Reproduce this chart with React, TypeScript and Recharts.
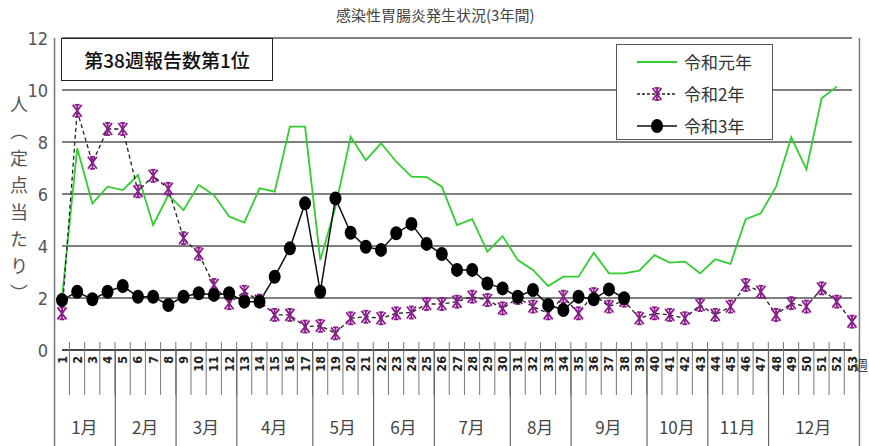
import React from 'react';
import { CartesianGrid, LineChart, Line, XAxis, YAxis } from 'recharts';

const WEEKS = Array.from({ length: 53 }, (_, i) => String(i + 1));

// 令和元年
const R1 = [
  2.0, 7.76, 5.64, 6.28, 6.15, 6.73, 4.8, 5.96, 5.38, 6.35, 5.96, 5.13, 4.9, 6.22, 6.09, 8.59, 8.59, 3.46,
  5.5, 8.2, 7.3, 7.95, 7.24, 6.67, 6.65, 6.28, 4.8, 5.03, 3.78, 4.38, 3.46, 3.08, 2.46, 2.82, 2.82, 3.74,
  2.95, 2.95, 3.05, 3.65, 3.36, 3.4, 2.95, 3.49, 3.31, 5.03, 5.26, 6.28, 8.18, 6.95, 9.68, 10.13, null,
];
// 令和2年
const R2 = [
  1.41, 9.2, 7.2, 8.5, 8.5, 6.1, 6.7, 6.2, 4.3, 3.7, 2.5, 1.8, 2.24, 1.9, 1.35, 1.35, 0.9, 0.93, 0.64, 1.22,
  1.28, 1.22, 1.41, 1.44, 1.77, 1.77, 1.86, 2.05, 1.92, 1.6, 2.0, 1.67, 1.41, 2.05, 1.41, 2.15, 1.67, 1.9,
  1.22, 1.41, 1.35, 1.22, 1.73, 1.35, 1.67, 2.5, 2.24, 1.35, 1.8, 1.67, 2.37, 1.86, 1.09,
];
// 令和3年 (week 38 まで)
const R3 = [
  1.92, 2.24, 1.95, 2.24, 2.46, 2.05, 2.05, 1.73, 2.05, 2.18, 2.12, 2.18, 1.86, 1.86, 2.82, 3.91, 5.64, 2.24,
  5.83, 4.51, 3.97, 3.85, 4.49, 4.85, 4.08, 3.69, 3.08, 3.08, 2.56, 2.37, 2.05, 2.31, 1.73, 1.54, 2.05, 1.95,
  2.33, 1.99,
];

const Y_TICKS = [0, 2, 4, 6, 8, 10, 12];

const MONTHS = [
  { label: '1月', start: 1, end: 4 },
  { label: '2月', start: 5, end: 8 },
  { label: '3月', start: 9, end: 12 },
  { label: '4月', start: 13, end: 17 },
  { label: '5月', start: 18, end: 21 },
  { label: '6月', start: 22, end: 25 },
  { label: '7月', start: 26, end: 30 },
  { label: '8月', start: 31, end: 34 },
  { label: '9月', start: 35, end: 39 },
  { label: '10月', start: 40, end: 43 },
  { label: '11月', start: 44, end: 47 },
  { label: '12月', start: 48, end: 53 },
];

const W = 869;
const H = 446;
const MARGIN = { top: 38, right: 17, left: 10, bottom: 0 };
const Y_WIDTH = 52;
const X_HEIGHT = 96;
const PLOT_W = W - MARGIN.left - Y_WIDTH - MARGIN.right;
const BAND = PLOT_W / WEEKS.length;

const JP = '"Noto Sans CJK JP", "Noto Sans", sans-serif';
const NUM = '"Liberation Sans Narrow", "DejaVu Sans Condensed", "Liberation Sans", sans-serif';

const data = WEEKS.map((w, i) => ({ week: w, r1: R1[i], r2: R2[i], r3: R3[i] ?? null }));

function WeekTick(props: any) {
  const { x, y, payload, index } = props;
  const week = Number(payload.value);
  const month = MONTHS.find((m) => m.start === week);
  return (
    <g>
      <line x1={x + BAND / 2} x2={x + BAND / 2} y1={y - 8} y2={y + 45} stroke="#777" strokeWidth={1} />
      {index === 0 && (
        <line x1={x - BAND / 2} x2={x - BAND / 2} y1={MARGIN.top} y2={H} stroke="#777" strokeWidth={1.5} />
      )}
      {index === WEEKS.length - 1 && (
        <line x1={x + BAND / 2} x2={x + BAND / 2} y1={MARGIN.top} y2={H} stroke="#777" strokeWidth={1.5} />
      )}
      <text
        transform={`translate(${x},${y + 6}) rotate(-90)`}
        textAnchor="end"
        dominantBaseline="central"
        fontSize={12.5}
        fontWeight={600}
        fontFamily={NUM}
        fill="#222"
      >
        {payload.value}
      </text>
      {month && (
        <>
          {month.start > 1 && (
            <line x1={x - BAND / 2} x2={x - BAND / 2} y1={y} y2={H} stroke="#666" strokeWidth={1.2} />
          )}
          <text
            x={x + ((month.end - month.start) / 2) * BAND}
            y={y + 84}
            textAnchor="middle"
            fontSize={17}
            fontFamily={JP}
            fill="#444"
          >
            {month.label}
          </text>
        </>
      )}
    </g>
  );
}

function ValueTick(props: any) {
  const { y, payload } = props;
  return (
    <text x={48} y={y} textAnchor="end" dominantBaseline="central" fontSize={18} fontFamily={NUM} fill="#555">
      {payload.value}
    </text>
  );
}

function StarDot(props: any) {
  const { cx, cy, index } = props;
  if (cx == null || cy == null) return <g key={`s${index}`} />;
  const c = '#8b1c8b';
  return (
    <g key={`s${index}`} stroke={c} strokeWidth={1.8}>
      <line x1={cx - 4.5} y1={cy - 6} x2={cx + 4.5} y2={cy + 6} />
      <line x1={cx + 4.5} y1={cy - 6} x2={cx - 4.5} y2={cy + 6} />
      <line x1={cx} y1={cy - 6.5} x2={cx} y2={cy + 6.5} />
      <line x1={cx - 2.5} y1={cy - 6} x2={cx + 2.5} y2={cy - 6} />
      <line x1={cx - 2.5} y1={cy + 6} x2={cx + 2.5} y2={cy + 6} />
    </g>
  );
}

function CircleDot(props: any) {
  const { cx, cy, index } = props;
  if (cx == null || cy == null) return <g key={`c${index}`} />;
  return <ellipse key={`c${index}`} cx={cx} cy={cy} rx={6} ry={7} fill="#000" />;
}

function LegendBox() {
  const rows = [
    { label: '令和元年', kind: 'r1' },
    { label: '令和2年', kind: 'r2' },
    { label: '令和3年', kind: 'r3' },
  ];
  return (
    <div
      style={{
        position: 'absolute',
        left: 616,
        top: 44,
        width: 157,
        height: 96,
        border: '1px solid #555',
        background: '#fff',
        boxSizing: 'border-box',
      }}
    >
      {rows.map((r, i) => (
        <div key={r.kind} style={{ position: 'absolute', left: 0, top: 2 + i * 32, height: 30, width: 157 }}>
          <svg width={60} height={30} style={{ position: 'absolute', left: 16, top: 0 }}>
            {r.kind === 'r1' && <line x1={4} x2={44} y1={15} y2={15} stroke="#33cc33" strokeWidth={2} />}
            {r.kind === 'r2' && (
              <>
                <line x1={4} x2={44} y1={15} y2={15} stroke="#222" strokeWidth={1.3} strokeDasharray="3 2" />
                <StarDot cx={24} cy={15} index={0} />
              </>
            )}
            {r.kind === 'r3' && (
              <>
                <line x1={4} x2={44} y1={15} y2={15} stroke="#111" strokeWidth={1.5} />
                <CircleDot cx={24} cy={15} index={0} />
              </>
            )}
          </svg>
          <span
            style={{
              position: 'absolute',
              left: 67,
              top: 2,
              fontSize: 17,
              fontFamily: JP,
              color: '#333',
              lineHeight: '26px',
              whiteSpace: 'nowrap',
            }}
          >
            {r.label}
          </span>
        </div>
      ))}
    </div>
  );
}

export default function App() {
  return (
    <div style={{ position: 'absolute', left: 0, top: 0, width: W, height: H, background: '#fff', overflow: 'hidden' }}>
      <LineChart width={W} height={H} data={data} margin={MARGIN}>
        <CartesianGrid vertical={false} stroke="#555" strokeWidth={1.3} />
        <XAxis
          dataKey="week"
          interval={0}
          height={X_HEIGHT}
          tickLine={false}
          tickSize={0}
          tickMargin={0}
          axisLine={{ stroke: '#333', strokeWidth: 1.3 }}
          tick={<WeekTick />}
        />
        <YAxis
          domain={[0, 12]}
          ticks={Y_TICKS}
          width={Y_WIDTH}
          axisLine={false}
          tickLine={false}
          tick={<ValueTick />}
        />
        <Line
          dataKey="r1"
          name="令和元年"
          stroke="#33cc33"
          strokeWidth={1.8}
          dot={false}
          isAnimationActive={false}
        />
        <Line
          dataKey="r2"
          name="令和2年"
          stroke="#222"
          strokeWidth={1.3}
          strokeDasharray="4 3"
          dot={StarDot}
          isAnimationActive={false}
        />
        <Line
          dataKey="r3"
          name="令和3年"
          stroke="#111"
          strokeWidth={1.5}
          dot={CircleDot}
          isAnimationActive={false}
        />
      </LineChart>

      <div
        style={{ position: 'absolute', left: 336, top: 4, fontSize: 15, fontFamily: JP, color: '#444', whiteSpace: 'nowrap' }}
      >
        感染性胃腸炎発生状況(3年間)
      </div>

      <div
        style={{
          position: 'absolute',
          left: 61,
          top: 38,
          width: 212,
          height: 43,
          border: '1.5px solid #222',
          background: '#fff',
          boxSizing: 'border-box',
          display: 'flex',
          alignItems: 'center',
          justifyContent: 'center',
          fontSize: 19,
          fontWeight: 500,
          fontFamily: JP,
          color: '#111',
        }}
      >
        第38週報告数第1位
      </div>

      <LegendBox />

      <div
        style={{
          position: 'absolute',
          left: 6,
          top: 95,
          writingMode: 'vertical-rl',
          fontSize: 18,
          letterSpacing: 9,
          fontFamily: JP,
          color: '#555',
        }}
      >
        人（定点当たり）
      </div>

      <div style={{ position: 'absolute', left: 854, top: 354, fontSize: 14, fontFamily: JP, color: '#444' }}>週</div>
    </div>
  );
}
